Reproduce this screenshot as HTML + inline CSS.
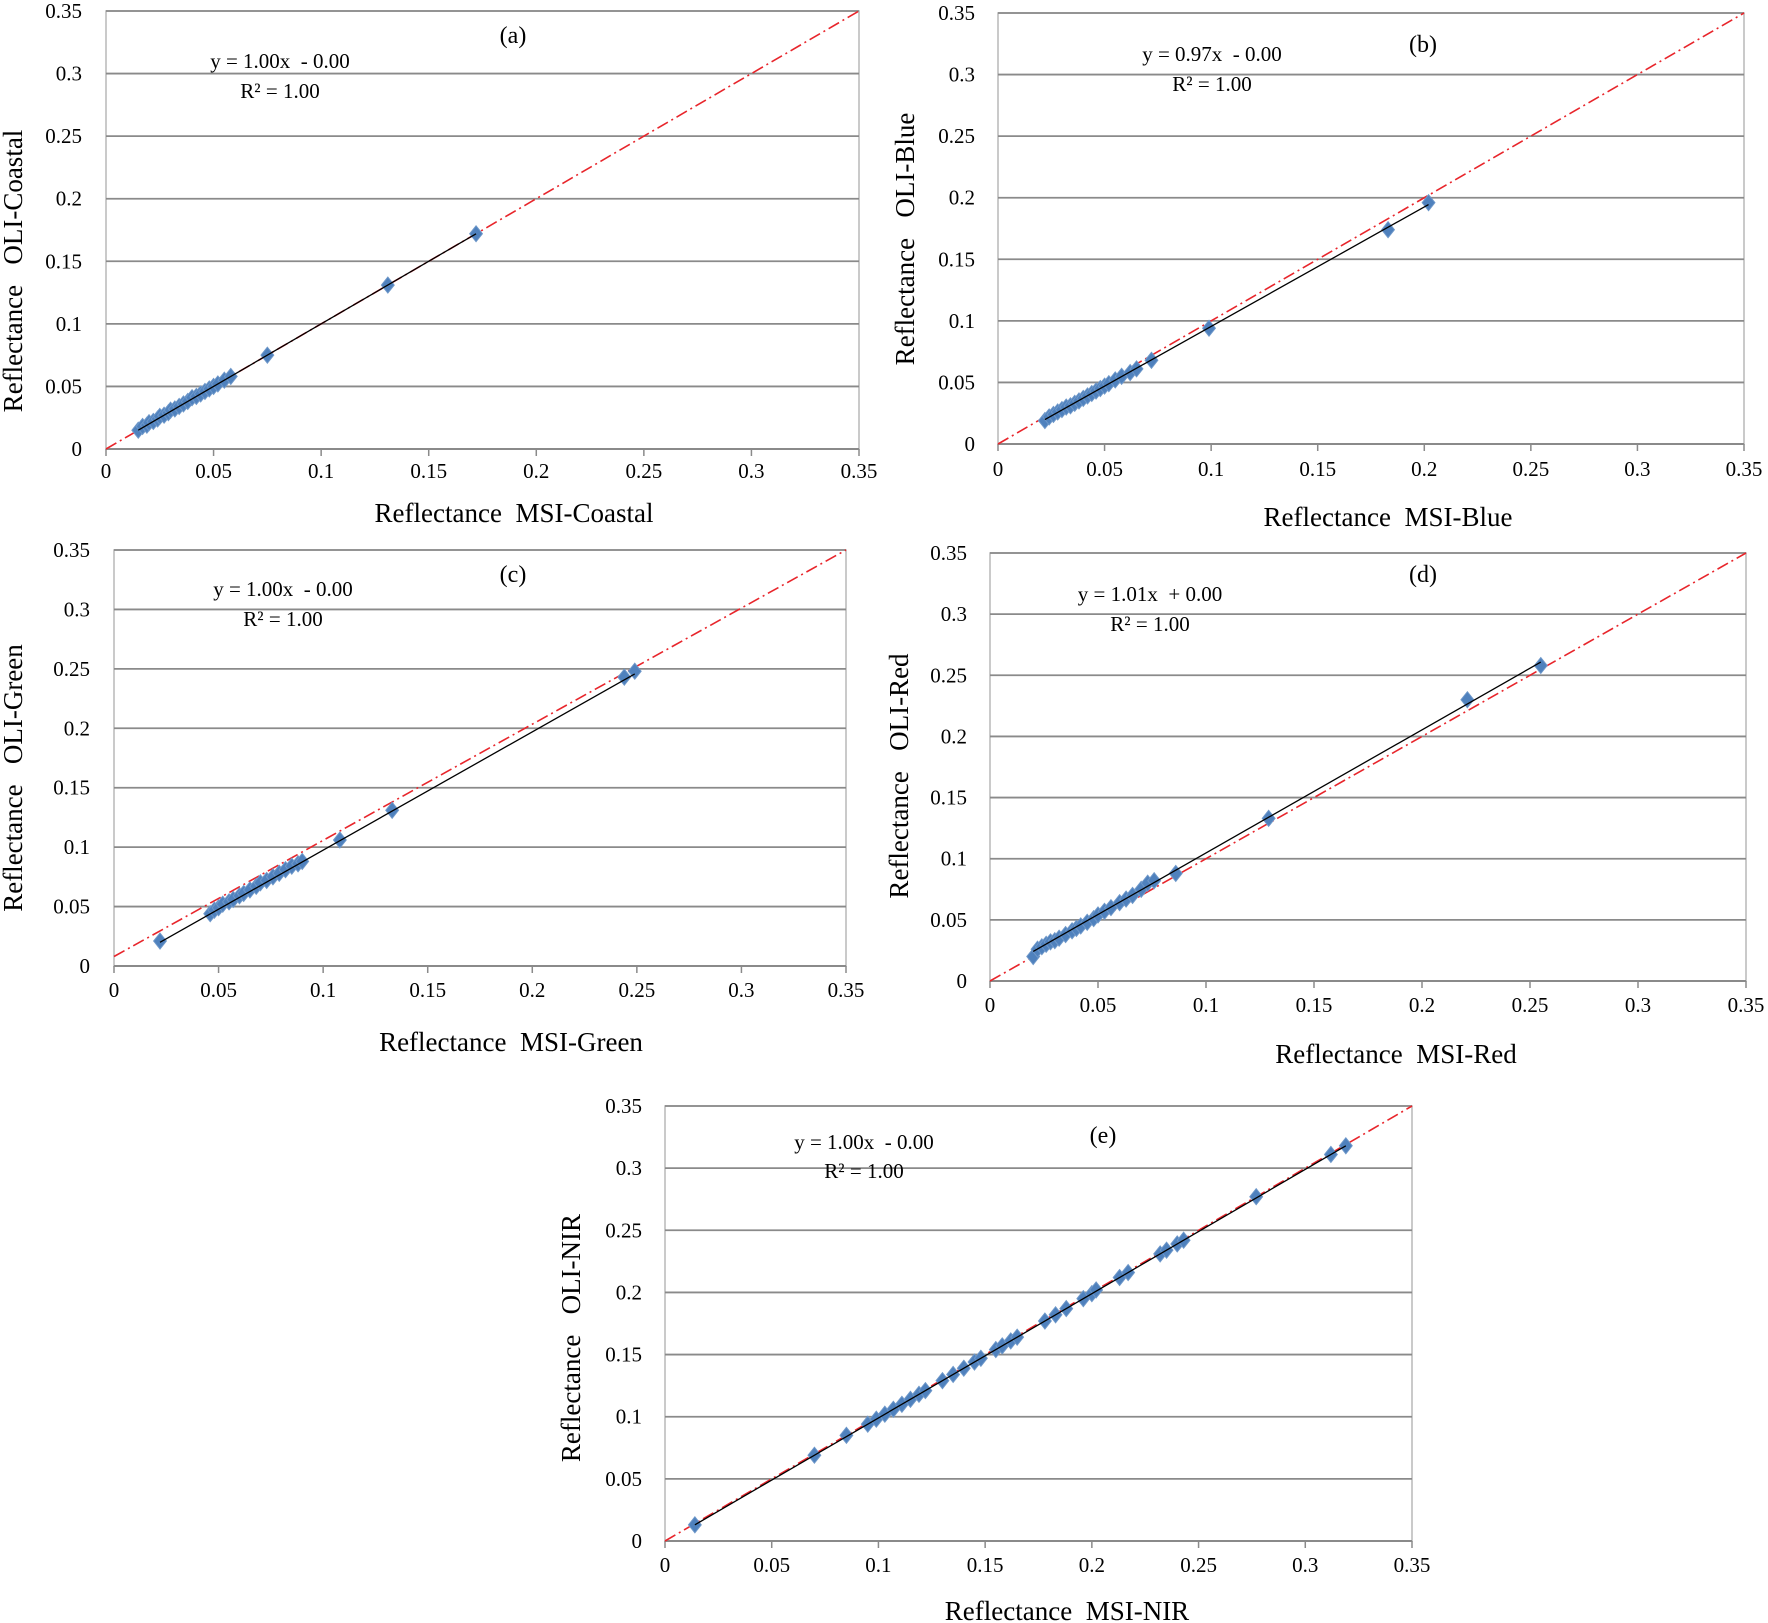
<!DOCTYPE html>
<html><head><meta charset="utf-8"><style>
html,body{margin:0;padding:0;background:#fff}
svg{display:block}
text{font-family:"Liberation Serif",serif;fill:#000;white-space:pre}
</style></head><body>
<svg id="fig" width="1768" height="1623" viewBox="0 0 1768 1623" xmlns="http://www.w3.org/2000/svg"></svg>
<script>
const ticks=[0,0.05,0.1,0.15,0.2,0.25,0.3,0.35];
const tickLabels=["0","0.05","0.1","0.15","0.2","0.25","0.3","0.35"];
const panelLabels=["(a)","(b)","(c)","(d)","(e)"];
const xTitles=["Reflectance  MSI-Coastal","Reflectance  MSI-Blue","Reflectance  MSI-Green","Reflectance  MSI-Red","Reflectance  MSI-NIR"];
const yTitles=["Reflectance   OLI-Coastal","Reflectance   OLI-Blue","Reflectance   OLI-Green","Reflectance   OLI-Red","Reflectance   OLI-NIR"];
const equations=["y = 1.00x  - 0.00","y = 0.97x  - 0.00","y = 1.00x  - 0.00","y = 1.01x  + 0.00","y = 1.00x  - 0.00"];
const slopes=[1.00,0.97,0.995,1.007,1.0];
const intercepts=[0.0,-0.0015,-0.002,0.004,-0.001];
const xA=[0.015,0.017,0.019,0.02,0.022,0.024,0.025,0.027,0.029,0.03,0.032,0.034,0.036,0.038,0.04,0.042,0.044,0.046,0.048,0.05,0.052,0.055,0.058,0.075,0.131,0.172];
const yA=[0.015,0.018,0.019,0.021,0.022,0.024,0.026,0.027,0.029,0.031,0.032,0.034,0.036,0.038,0.041,0.042,0.044,0.046,0.048,0.05,0.052,0.055,0.058,0.075,0.131,0.172];
const xB=[0.022,0.024,0.026,0.028,0.03,0.032,0.034,0.036,0.038,0.04,0.042,0.044,0.046,0.048,0.05,0.052,0.055,0.058,0.062,0.065,0.072,0.099,0.183,0.202];
const yB=[0.019,0.022,0.024,0.026,0.028,0.03,0.031,0.033,0.035,0.037,0.039,0.041,0.043,0.045,0.047,0.049,0.052,0.055,0.058,0.061,0.068,0.094,0.174,0.196];
const xC=[0.022,0.046,0.048,0.05,0.052,0.055,0.057,0.06,0.062,0.065,0.068,0.07,0.073,0.076,0.079,0.082,0.085,0.088,0.09,0.108,0.133,0.244,0.249];
const yC=[0.021,0.044,0.047,0.049,0.052,0.054,0.056,0.059,0.061,0.064,0.067,0.07,0.072,0.075,0.078,0.081,0.084,0.086,0.088,0.106,0.131,0.243,0.248];
const xD=[0.02,0.022,0.024,0.026,0.028,0.03,0.032,0.035,0.038,0.04,0.042,0.045,0.048,0.05,0.053,0.056,0.06,0.063,0.066,0.07,0.073,0.076,0.086,0.129,0.221,0.255];
const yD=[0.02,0.026,0.028,0.03,0.032,0.033,0.035,0.038,0.041,0.043,0.045,0.048,0.051,0.054,0.057,0.06,0.064,0.067,0.07,0.075,0.08,0.082,0.088,0.133,0.23,0.258];
const xE=[0.014,0.07,0.085,0.095,0.099,0.103,0.107,0.111,0.115,0.119,0.122,0.13,0.135,0.14,0.145,0.148,0.155,0.158,0.162,0.165,0.178,0.183,0.188,0.196,0.2,0.202,0.213,0.217,0.232,0.235,0.24,0.243,0.277,0.312,0.319];
const yE=[0.013,0.069,0.085,0.094,0.098,0.102,0.106,0.11,0.114,0.118,0.121,0.129,0.134,0.139,0.144,0.147,0.154,0.157,0.161,0.164,0.177,0.182,0.187,0.195,0.199,0.202,0.212,0.216,0.231,0.234,0.239,0.242,0.277,0.311,0.318];
const xs=[xA,xB,xC,xD,xE], ys=[yA,yB,yC,yD,yE];
const redOffsets=[0,0,0.008,0,0];

const layout=[
 {x0:106,x1:859,yt:11,yb:449,eq:[280,68],r2:[280,98],pl:[513,43],xt:[514,522],yt2:[22,271],ytr:82,xty:478},
 {x0:998,x1:1744,yt:13,yb:444,eq:[1212,61],r2:[1212,91],pl:[1423,52],xt:[1388,526],yt2:[914,239],ytr:975,xty:476},
 {x0:114,x1:846,yt:550,yb:966,eq:[283,596],r2:[283,626],pl:[513,582],xt:[511,1051],yt2:[22,778],ytr:90,xty:997},
 {x0:990,x1:1746,yt:553,yb:981,eq:[1150,601],r2:[1150,631],pl:[1423,582],xt:[1396,1063],yt2:[908,776],ytr:967,xty:1012},
 {x0:665,x1:1412,yt:1106,yb:1541,eq:[864,1149],r2:[864,1178],pl:[1103,1143],xt:[1067,1620],yt2:[580,1338],ytr:642,xty:1572}
];
const NS="http://www.w3.org/2000/svg";
const svg=document.getElementById('fig');
function mk(tag,attrs,parent,txt){const e=document.createElementNS(NS,tag);for(const k in attrs)e.setAttribute(k,attrs[k]);if(txt!==undefined)e.textContent=txt;parent.appendChild(e);return e;}
const letters=['a','b','c','d','e'];
layout.forEach((L,i)=>{
  const g=mk('g',{},svg);
  
  
  const sx=v=>L.x0+(L.x1-L.x0)*v/0.35;
  const sy=v=>L.yb-(L.yb-L.yt)*v/0.35;
  const border=mk('rect',{x:L.x0,y:L.yt,width:L.x1-L.x0,height:L.yb-L.yt,fill:'none',stroke:'#b8b8b8','stroke-width':1.5},g);
  
  
  ticks.forEach((t,k)=>{
    if(k>0){const gl=mk('line',{x1:L.x0,x2:L.x1,y1:sy(t),y2:sy(t),stroke:'#8a8a8a','stroke-width':1.8},g);
      
      }
    const tm=mk('line',{x1:sx(t),x2:sx(t),y1:L.yb,y2:L.yb+7,stroke:'#8a8a8a','stroke-width':1.5},g);
    
    
    const yl=mk('text',{x:L.ytr,y:sy(t)+7,'text-anchor':'end','font-size':21},g,tickLabels[k]);
    
    
    const xl=mk('text',{x:sx(t),y:L.xty,'text-anchor':'middle','font-size':21},g,tickLabels[k]);
    
    
  });
  mk('line',{x1:L.x0,x2:L.x1,y1:L.yb,y2:L.yb,stroke:'#8a8a8a','stroke-width':2},g);
  const ro=redOffsets[i];
  const red=mk('line',{x1:sx(0),y1:sy(ro),x2:sx(0.35),y2:sy(0.35),stroke:'#e8252b','stroke-width':1.6,'stroke-dasharray':'12 4 2 4'},g);
  
  
  const X=xs[i],Y=ys[i];
  X.forEach((xv,j)=>{
    const cx=sx(xv),cy=sy(Y[j]),r=8;
    const p=mk('polygon',{points:`${cx},${cy-r} ${cx+r*0.8},${cy} ${cx},${cy+r} ${cx-r*0.8},${cy}`,fill:'#4f81bd',stroke:'#6d97c9','stroke-width':1},g);
    
    
  });
  const xmin=Math.min(...X),xmax=Math.max(...X);
  const reg=mk('line',{x1:sx(xmin),y1:sy(slopes[i]*xmin+intercepts[i]),x2:sx(xmax),y2:sy(slopes[i]*xmax+intercepts[i]),stroke:'#000','stroke-width':1.3},g);
  
  
  const eq=mk('text',{x:L.eq[0],y:L.eq[1],'text-anchor':'middle','font-size':21},g,equations[i]);
  
  
  const r2=mk('text',{x:L.r2[0],y:L.r2[1],'text-anchor':'middle','font-size':21},g,'R² = 1.00');
  
  
  const pl=mk('text',{x:L.pl[0],y:L.pl[1],'text-anchor':'middle','font-size':24},g,panelLabels[i]);
  
  
  const xt=mk('text',{x:L.xt[0],y:L.xt[1],'text-anchor':'middle','font-size':27},g,xTitles[i]);
  
  
  const yt=mk('text',{x:L.yt2[0],y:L.yt2[1],'text-anchor':'middle','font-size':27,transform:`rotate(-90 ${L.yt2[0]} ${L.yt2[1]})`},g,yTitles[i]);
  
  
});
</script>
</body></html>
